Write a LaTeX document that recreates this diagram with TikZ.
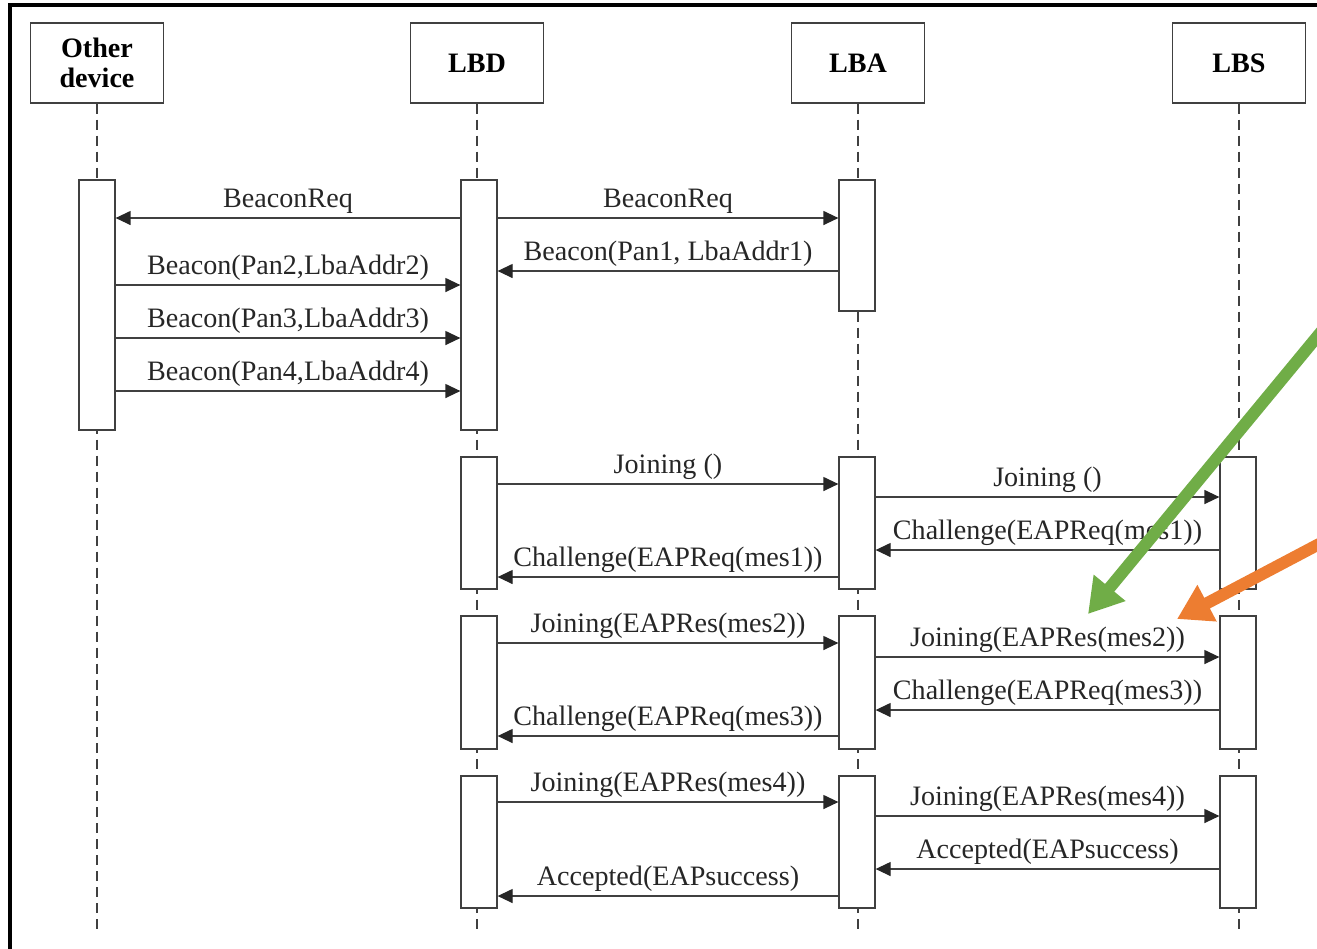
\documentclass[tikz,border=0pt]{standalone}
\usepackage{fontspec}
\setmainfont{Liberation Serif}
\usetikzlibrary{arrows.meta}
\definecolor{linegray}{rgb}{0.25,0.25,0.25}
\definecolor{verde}{RGB}{112,173,71}
\definecolor{naranja}{RGB}{237,125,49}
\tikzset{
	header/.style={draw=linegray, line width=0.025cm, minimum width=2.66cm, minimum height=1.6cm,
		font=\fontsize{16}{17}\selectfont\bfseries, align=center, inner sep=0pt},
	act/.style={draw=linegray, fill=white, line width=0.025cm, minimum width=0.72cm, inner sep=0pt},
	life/.style={draw=linegray, line width=0.022cm, dash pattern=on 0.2cm off 0.12cm},
	msg/.style={draw=linegray, line width=0.025cm, -{Triangle[length=0.3cm, width=0.28cm, color=black!85]}},
	lbl/.style={font=\fontsize{16}{18}\selectfont, inner sep=0pt, text depth=0pt, above=0.2cm, text=black!85},
	callout/.style={line width=0.24cm, -{Triangle[length=0.68cm, width=0.78cm]}}
}
\begin{document}
\begin{tikzpicture}[x=0.02cm, y=-0.02cm]
				\useasboundingbox (0,0) rectangle (1317,948);
				\draw[line width=0.08cm] (10,960) -- (10,5) -- (1330,5);

				\node[header] (oth) at (97,63) {Other\\device};
				\node[header] (lbd) at (477,63) {LBD};
				\node[header] (lba) at (858,63) {LBA};
				\node[header] (lbs) at (1239,63) {LBS};

				\draw[life] (oth.south) -- (oth.south |- 0,935);
				\draw[life] (lbd.south) -- (lbd.south |- 0,935);
				\draw[life] (lba.south) -- (lba.south |- 0,935);
				\draw[life] (lbs.south) -- (lbs.south |- 0,935);

				% discovery
				\node[act, minimum height=5cm] (oth1) at (97,305) {};
				\node[act, minimum height=5cm] (lbd1) at (479,305) {};
				\node[act, minimum height=2.62cm] (lba1) at (857,245.5) {};

				\draw[msg] (lbd1.west |- 0,218) -- (oth1.east |- 0,218)
					node[lbl, midway] {BeaconReq};
				\draw[msg] (lbd1.east |- 0,218) -- (lba1.west |- 0,218)
					node[lbl, midway] {BeaconReq};
				\draw[msg] (lba1.west |- 0,271) -- (lbd1.east |- 0,271)
					node[lbl, midway] {Beacon(Pan1, LbaAddr1)};
				\draw[msg] (oth1.east |- 0,285) -- (lbd1.west |- 0,285)
					node[lbl, midway] {Beacon(Pan2,LbaAddr2)};
				\draw[msg] (oth1.east |- 0,338) -- (lbd1.west |- 0,338)
					node[lbl, midway] {Beacon(Pan3,LbaAddr3)};
				\draw[msg] (oth1.east |- 0,391) -- (lbd1.west |- 0,391)
					node[lbl, midway] {Beacon(Pan4,LbaAddr4)};

				% joining, first round
				\node[act, minimum height=2.64cm] (lbd2) at (479,523) {};
				\node[act, minimum height=2.64cm] (lba2) at (857,523) {};
				\node[act, minimum height=2.64cm] (lbs2) at (1238,523) {};

				\draw[msg] (lbd2.east |- 0,484) -- (lba2.west |- 0,484)
					node[lbl, midway] {Joining ()};
				\draw[msg] (lba2.east |- 0,497) -- (lbs2.west |- 0,497)
					node[lbl, midway] {Joining ()};
				\draw[msg] (lbs2.west |- 0,550) -- (lba2.east |- 0,550)
					node[lbl, midway] {Challenge(EAPReq(mes1))};
				\draw[msg] (lba2.west |- 0,577) -- (lbd2.east |- 0,577)
					node[lbl, midway] {Challenge(EAPReq(mes1))};

				% joining, second round
				\node[act, minimum height=2.66cm] (lbd3) at (479,682.5) {};
				\node[act, minimum height=2.66cm] (lba3) at (857,682.5) {};
				\node[act, minimum height=2.66cm] (lbs3) at (1238,682.5) {};

				\draw[msg] (lbd3.east |- 0,643) -- (lba3.west |- 0,643)
					node[lbl, midway] {Joining(EAPRes(mes2))};
				\draw[msg] (lba3.east |- 0,657) -- (lbs3.west |- 0,657)
					node[lbl, midway] {Joining(EAPRes(mes2))};
				\draw[msg] (lbs3.west |- 0,710) -- (lba3.east |- 0,710)
					node[lbl, midway] {Challenge(EAPReq(mes3))};
				\draw[msg] (lba3.west |- 0,736) -- (lbd3.east |- 0,736)
					node[lbl, midway] {Challenge(EAPReq(mes3))};

				% joining, last round
				\node[act, minimum height=2.64cm] (lbd4) at (479,842) {};
				\node[act, minimum height=2.64cm] (lba4) at (857,842) {};
				\node[act, minimum height=2.64cm] (lbs4) at (1238,842) {};

				\draw[msg] (lbd4.east |- 0,802) -- (lba4.west |- 0,802)
					node[lbl, midway] {Joining(EAPRes(mes4))};
				\draw[msg] (lba4.east |- 0,816) -- (lbs4.west |- 0,816)
					node[lbl, midway] {Joining(EAPRes(mes4))};
				\draw[msg] (lbs4.west |- 0,869) -- (lba4.east |- 0,869)
					node[lbl, midway] {Accepted(EAPsuccess)};
				\draw[msg] (lba4.west |- 0,896) -- (lbd4.east |- 0,896)
					node[lbl, midway] {Accepted(EAPsuccess)};

				% callouts
				\coordinate (gstart) at (1340,309);
				\coordinate (gend) at (1088,614);
				\coordinate (ostart) at (1340,533);
				\coordinate (oend) at (1177,619);
				\draw[callout, verde] (gstart) -- (gend);
				\draw[callout, naranja] (ostart) -- (oend);
			\end{tikzpicture}
\end{document}
